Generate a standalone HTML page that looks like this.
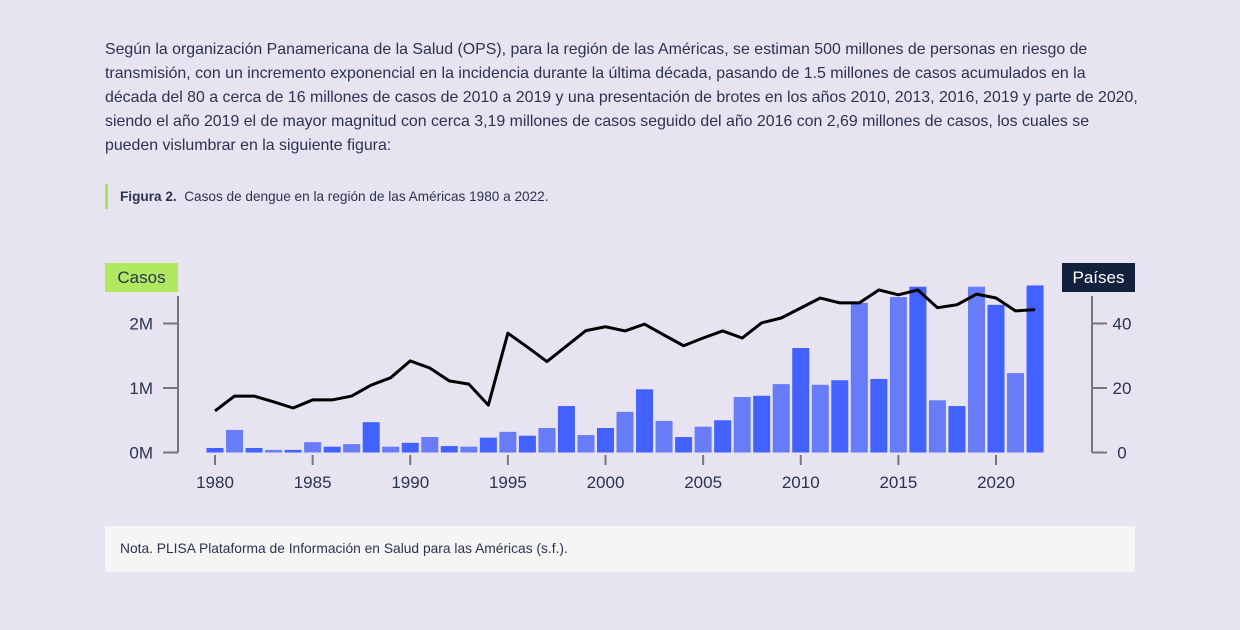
<!DOCTYPE html>
<html><head><meta charset="utf-8"><style>
body{margin:0;width:1240px;height:630px;background:#e7e3f0;font-family:"Liberation Sans",sans-serif;color:#2b3350;position:relative;overflow:hidden}
.p{position:absolute;left:105px;top:38px;width:1060px;font-size:15.9px;line-height:24px;white-space:nowrap}
.cap{position:absolute;left:105px;top:184px;height:25px;border-left:3px solid #a6e35a;padding-left:12px;font-size:13.6px;line-height:25px}
.note{position:absolute;left:105px;top:526px;width:1030px;height:46px;background:#f5f5f5;font-size:13.8px;line-height:46px;box-sizing:border-box;padding-left:15px}
</style></head><body>
<div class="p">Según la organización Panamericana de la Salud (OPS), para la región de las Américas, se estiman 500 millones de personas en riesgo de<br>transmisión, con un incremento exponencial en la incidencia durante la última década, pasando de 1.5 millones de casos acumulados en la<br>década del 80 a cerca de 16 millones de casos de 2010 a 2019 y una presentación de brotes en los años 2010, 2013, 2016, 2019 y parte de 2020,<br>siendo el año 2019 el de mayor magnitud con cerca 3,19 millones de casos seguido del año 2016 con 2,69 millones de casos, los cuales se<br>pueden vislumbrar en la siguiente figura:</div>
<div class="cap"><b>Figura 2.</b>&nbsp; Casos de dengue en la región de las Américas 1980 a 2022.</div>
<svg id="chart" width="1240" height="630" style="position:absolute;left:0;top:0" font-family="Liberation Sans, sans-serif">
<rect x="105" y="263" width="73" height="29" fill="#b0e860"/>
<text x="141.5" y="283" text-anchor="middle" font-size="17" fill="#2b3350">Casos</text>
<rect x="1062" y="263" width="73" height="29" fill="#14213d"/>
<text x="1098.5" y="283" text-anchor="middle" font-size="17" fill="#fff">Países</text>
<g id="g"></g>
</svg>
<div class="note">Nota. PLISA Plataforma de Información en Salud para las Américas (s.f.).</div>
<script>
const years=[1980,1981,1982,1983,1984,1985,1986,1987,1988,1989,1990,1991,1992,1993,1994,1995,1996,1997,1998,1999,2000,2001,2002,2003,2004,2005,2006,2007,2008,2009,2010,2011,2012,2013,2014,2015,2016,2017,2018,2019,2020,2021,2022];
const casesM=[0.07,0.35,0.07,0.04,0.04,0.16,0.09,0.13,0.47,0.09,0.15,0.24,0.1,0.09,0.23,0.32,0.26,0.38,0.72,0.27,0.38,0.63,0.98,0.49,0.24,0.40,0.50,0.86,0.88,1.06,1.62,1.05,1.12,2.32,1.14,2.41,2.57,0.81,0.72,2.57,2.29,1.23,2.59];
const countries=[12.9,17.5,17.5,15.7,13.8,16.3,16.3,17.5,20.9,23.2,28.4,26.2,22.2,21.2,14.7,37,32.7,28.2,33,37.8,39,37.7,39.8,36.4,33.1,35.5,37.7,35.5,40.2,41.7,44.8,47.9,46.4,46.4,50.4,48.9,50.4,44.9,45.8,49.1,47.9,43.9,44.3];
const leftTicks=[0,1,2], leftLabels=["0M","1M","2M"];
const rightTicks=[0,20,40];
const xTicks=[1980,1985,1990,1995,2000,2005,2010,2015,2020];
const NS="http://www.w3.org/2000/svg",g=document.getElementById('g');
const x=v=>215+(v-1980)*19.525, yL=v=>452.5-v*64.5, yR=v=>452.5-v*3.225;
function mk(t,a,txt){const e=document.createElementNS(NS,t);for(const k in a)e.setAttribute(k,a[k]);if(txt!=null)e.textContent=txt;g.appendChild(e);return e;}
years.forEach((yr,i)=>{const b=mk('rect',{x:x(yr)-8.5,y:yL(casesM[i]),width:17,height:452.5-yL(casesM[i]),fill:i%2?'#687cf8':'#4361ff'});

});
const ln=mk('polyline',{points:years.map((yr,i)=>x(yr)+','+yR(countries[i])).join(' '),fill:'none',stroke:'#000','stroke-width':3,'stroke-linejoin':'round'});


const ax=mk('path',{d:'M178,296V452.5',stroke:'#777','stroke-width':2,fill:'none'});


const ax2=mk('path',{d:'M1092,296V452.5',stroke:'#777','stroke-width':2,fill:'none'});


leftTicks.forEach((v,i)=>{mk('path',{d:`M163,${yL(v)}H178`,stroke:'#777','stroke-width':2});
const t=mk('text',{x:153,y:yL(v)+6,'text-anchor':'end','font-size':17,fill:'#2b3350'},leftLabels[i]);

});
rightTicks.forEach(v=>{mk('path',{d:`M1092,${yR(v)}H1107`,stroke:'#777','stroke-width':2});
const t=mk('text',{x:1122,y:yR(v)+6,'text-anchor':'middle','font-size':17,fill:'#2b3350'},String(v));

});
xTicks.forEach(v=>{mk('path',{d:`M${x(v)},455V465`,stroke:'#777','stroke-width':2});
const t=mk('text',{x:x(v),y:488,'text-anchor':'middle','font-size':17,fill:'#2b3350'},String(v));

});
</script>
</body></html>
